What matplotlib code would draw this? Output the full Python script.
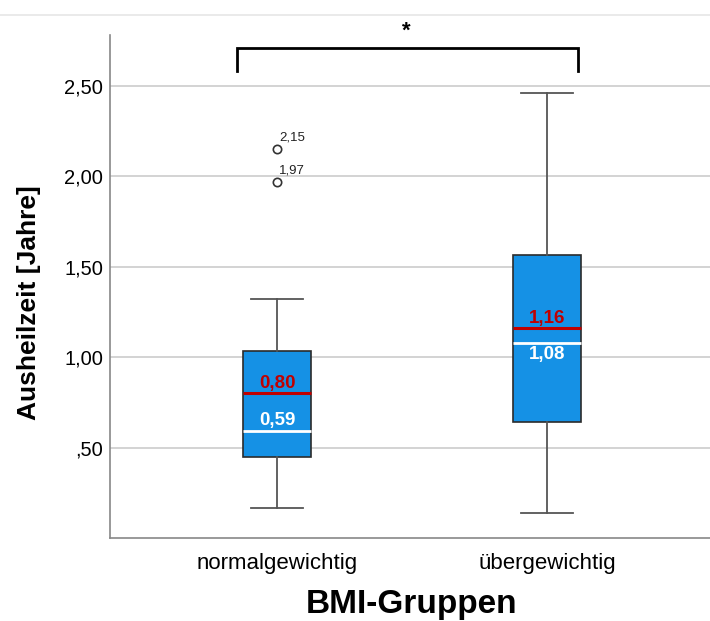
import numpy as np
import matplotlib.pyplot as plt
from matplotlib.lines import Line2D

plt.rcParams['font.family'] = ['Liberation Sans', 'DejaVu Sans']

# Daten
gruppen = ["normalgewichtig", "übergewichtig"]
median = [0.59, 1.08]
mittelwert = [0.80, 1.16]
q1 = [0.446, 0.640]
q3 = [1.032, 1.566]
whisker_unten = [0.165, 0.139]
whisker_oben = [1.318, 2.46]
ausreisser = [[2.15, 1.97], []]

stats = []
for i in range(len(gruppen)):
    stats.append(dict(med=median[i], q1=q1[i], q3=q3[i],
                      whislo=whisker_unten[i], whishi=whisker_oben[i],
                      fliers=ausreisser[i], label=gruppen[i]))

fig = plt.figure(figsize=(7.1, 6.21), dpi=100)
ax = fig.add_axes([0.155, 0.1337, 0.845, 0.81])

pos = [1, 2]
ax.bxp(stats, positions=pos, widths=0.252, patch_artist=True,
       boxprops=dict(facecolor="#1591E5", edgecolor="#2b2b2b", linewidth=1.2),
       medianprops=dict(color="white", linewidth=2),
       whiskerprops=dict(color="#555555", linewidth=1.3),
       capprops=dict(color="#555555", linewidth=1.3),
       capwidths=0.19,
       flierprops=dict(marker="o", markerfacecolor="white", markeredgecolor="#333333",
                       markersize=6, markeredgewidth=1.2),
       zorder=3)

# Mittelwert als rote Linie
for i in range(len(gruppen)):
    ax.hlines(mittelwert[i], pos[i] - 0.126, pos[i] + 0.126, color="#C00000", lw=2.2, zorder=4)
    ax.text(pos[i], mittelwert[i] + 0.008, f"{mittelwert[i]:.2f}".replace(".", ","),
            color="#C00000", fontsize=13.5, fontweight="bold", ha="center", va="bottom", zorder=5)
    ax.text(pos[i], median[i] + (0.015 if i == 0 else -0.02), f"{median[i]:.2f}".replace(".", ","),
            color="white", fontsize=13.5, fontweight="bold", ha="center",
            va="bottom" if i == 0 else "top", zorder=5)

for v in ausreisser[0]:
    ax.text(pos[0] + 0.008, v + 0.03, f"{v:.2f}".replace(".", ","), fontsize=9.5,
            color="#222222", ha="left", va="bottom")

# Signifikanzklammer
ax.plot([0.85, 0.85, 2.115, 2.115], [2.58, 2.71, 2.71, 2.58], color="black", lw=2,
        clip_on=False, solid_joinstyle="miter")
ax.text(1.48, 2.80, "*", fontsize=16, fontweight="bold", ha="center", va="center")

ax.set_xlim(0.3815, 2.6037)
ax.set_ylim(0, 2.78)
ax.set_yticks([0.5, 1.0, 1.5, 2.0, 2.5])
ax.set_yticklabels([",50", "1,00", "1,50", "2,00", "2,50"], fontsize=14.5)
ax.set_xticks(pos)
ax.set_xticklabels(gruppen, fontsize=16)
ax.tick_params(axis="both", length=0, pad=5)
ax.tick_params(axis="x", pad=11)
ax.yaxis.grid(True, color="#cccccc", lw=1.2, zorder=0)
ax.set_axisbelow(True)

for s in ["top", "right"]:
    ax.spines[s].set_visible(False)
for s in ["left", "bottom"]:
    ax.spines[s].set_color("#888888")
    ax.spines[s].set_linewidth(1.2)

ax.set_xlabel("BMI-Gruppen", fontsize=24, fontweight="bold")
ax.xaxis.set_label_coords(0.5025, -0.132)
ax.xaxis.label.set_va("center")
ax.set_ylabel("Ausheilzeit [Jahre]", fontsize=19, fontweight="bold")
ax.yaxis.set_label_coords(-0.135, 0.468)
ax.yaxis.label.set_va("center")

fig.add_artist(Line2D([0, 1], [1 - 15 / 621, 1 - 15 / 621], color="#e6e6e6", lw=1.2))

fig.savefig("out.png", dpi=100)
